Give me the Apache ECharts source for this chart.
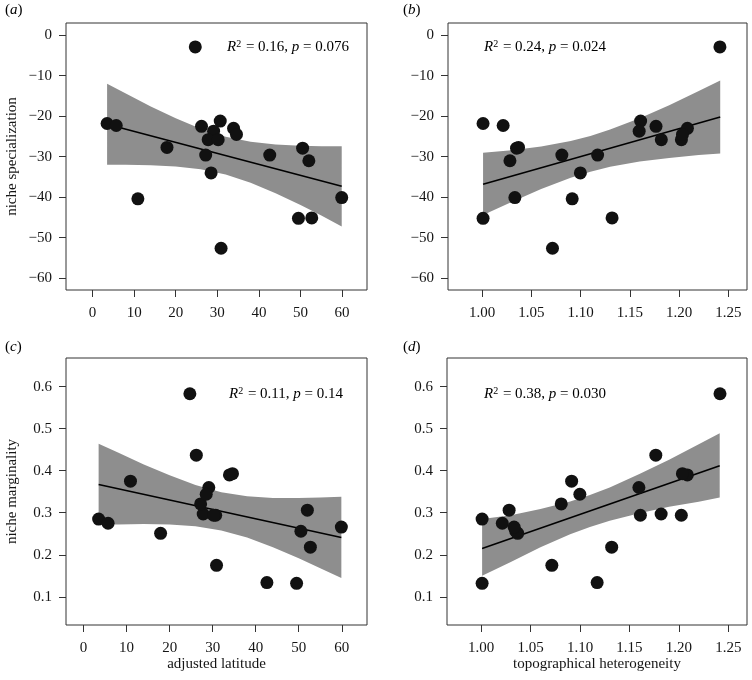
<!DOCTYPE html>
<html>
<head>
<meta charset="utf-8">
<script src="https://cdn.jsdelivr.net/npm/echarts@6/dist/echarts.min.js"></script>
<style>html,body{margin:0;padding:0;background:#fff}#chart{width:752px;height:680px}</style>
</head>
<body>
<div id="chart"></div>
<script>
// ---- data: one entry per species ----
const latitude = [24.7, 3.5, 5.7, 17.9, 10.9, 26.2, 30.7, 29.1, 27.8, 30.2, 33.9, 34.6, 27.2, 28.5, 30.9, 42.6, 50.5, 52.0, 49.5, 52.7, 59.9];
const topography = [1.2415, 1.001, 1.0214, 1.037, 1.0915, 1.1766, 1.161, 1.1595, 1.182, 1.2024, 1.2085, 1.2035, 1.081, 1.0998, 1.0715, 1.1173, 1.035, 1.0283, 1.001, 1.132, 1.0333];
const specialization = [-2.9, -21.8, -22.3, -27.7, -40.4, -22.5, -21.2, -23.7, -25.8, -25.8, -23.0, -24.5, -29.6, -34.0, -52.6, -29.6, -27.9, -31.0, -45.2, -45.1, -40.1];
const marginality = [0.583, 0.285, 0.275, 0.251, 0.375, 0.437, 0.294, 0.360, 0.297, 0.294, 0.390, 0.393, 0.321, 0.344, 0.175, 0.134, 0.256, 0.306, 0.132, 0.218, 0.266];

// ---- tick labels ----
const latTicks = [0, 10, 20, 30, 40, 50, 60];
const topoTicks = [1.00, 1.05, 1.10, 1.15, 1.20, 1.25];
const specTicks = [0, -10, -20, -30, -40, -50, -60];
const margTicks = [0.1, 0.2, 0.3, 0.4, 0.5, 0.6];

// ---- fitted lines ----
const fitX_a = [3.5, 59.9];   const fitY_a = [-22.0, -37.3];
const fitX_b = [1.001, 1.2418]; const fitY_b = [-36.8, -20.2];
const fitX_c = [3.5, 59.9];   const fitY_c = [0.367, 0.241];
const fitX_d = [1.001, 1.2412]; const fitY_d = [0.215, 0.412];

// ---- confidence bands ----
const bandX_a = [3.5, 8, 14, 20, 26, 32, 38, 44, 50, 55, 59.9];
const bandUpper_a = [-12.0, -14.4, -17.6, -20.5, -23.1, -25.1, -26.3, -27.0, -27.3, -27.4, -27.4];
const bandLower_a = [-32.0, -32.0, -32.1, -32.4, -33.1, -34.4, -36.4, -39.0, -41.9, -44.5, -47.2];
const bandX_b = [1.001, 1.03, 1.06, 1.09, 1.11, 1.13, 1.16, 1.19, 1.22, 1.2418];
const bandUpper_b = [-29.0, -28.4, -27.5, -26.1, -24.9, -23.3, -20.5, -17.3, -13.8, -11.2];
const bandLower_b = [-44.4, -41.2, -38.0, -35.2, -33.7, -32.5, -31.2, -30.3, -29.6, -29.2];
const bandX_c = [3.5, 8, 14, 20, 26, 32, 38, 44, 50, 55, 59.9];
const bandUpper_c = [0.464, 0.443, 0.415, 0.389, 0.366, 0.349, 0.339, 0.335, 0.335, 0.336, 0.338];
const bandLower_c = [0.272, 0.272, 0.273, 0.272, 0.268, 0.258, 0.241, 0.218, 0.192, 0.168, 0.145];
const bandX_d = [1.001, 1.03, 1.06, 1.09, 1.11, 1.13, 1.16, 1.19, 1.22, 1.2412];
const bandUpper_d = [0.285, 0.294, 0.309, 0.327, 0.342, 0.360, 0.392, 0.426, 0.463, 0.489];
const bandLower_d = [0.150, 0.183, 0.218, 0.249, 0.266, 0.281, 0.299, 0.314, 0.326, 0.336];

// ---- statistics text ----
const panelLetters = ['a', 'b', 'c', 'd'];
const r2Text = ['0.16', '0.24', '0.11', '0.38'];
const pText = ['0.076', '0.024', '0.14', '0.030'];

const SERIF = '"Liberation Serif","DejaVu Serif",serif';
const INK = '#151515';

const grids = [
  {left: 66, top: 23, width: 301, height: 267},
  {left: 448, top: 23, width: 299, height: 267},
  {left: 66, top: 358, width: 301, height: 267},
  {left: 447, top: 358, width: 300, height: 267}
];

const panels = [
  {xs: latitude, ys: specialization, xMin: -6.38, xMax: 65.98, yMin: -62.9, yMax: 3.0, xT: latTicks, yT: specTicks, xd: 0, yd: 0,
   fx: fitX_a, fy: fitY_a, bx: bandX_a, bu: bandUpper_a, bl: bandLower_a, xName: '', yName: 'niche specialization'},
  {xs: topography, ys: specialization, xMin: 0.9654, xMax: 1.269, yMin: -62.9, yMax: 3.0, xT: topoTicks, yT: specTicks, xd: 2, yd: 0,
   fx: fitX_b, fy: fitY_b, bx: bandX_b, bu: bandUpper_b, bl: bandLower_b, xName: '', yName: ''},
  {xs: latitude, ys: marginality, xMin: -4.08, xMax: 65.86, yMin: 0.033, yMax: 0.668, xT: latTicks, yT: margTicks, xd: 0, yd: 1,
   fx: fitX_c, fy: fitY_c, bx: bandX_c, bu: bandUpper_c, bl: bandLower_c, xName: 'adjusted latitude', yName: 'niche marginality'},
  {xs: topography, ys: marginality, xMin: 0.9655, xMax: 1.2688, yMin: 0.033, yMax: 0.668, xT: topoTicks, yT: margTicks, xd: 2, yd: 1,
   fx: fitX_d, fy: fitY_d, bx: bandX_d, bu: bandUpper_d, bl: bandLower_d, xName: 'topographical heterogeneity', yName: ''}
];

function fmt(dec) {
  return v => Number(v).toFixed(dec).replace('-', '\u2212');
}

const xAxes = [], yAxes = [], series = [];
panels.forEach((p, i) => {
  xAxes.push({
    gridIndex: i, type: 'value', min: p.xMin, max: p.xMax,
    axisLine: {show: false, onZero: false},
    splitLine: {show: false},
    axisTick: {show: true, customValues: p.xT, length: 7, lineStyle: {color: '#333', width: 1}},
    axisLabel: {show: true, customValues: p.xT, formatter: fmt(p.xd), fontFamily: SERIF, fontSize: 15, color: INK, margin: 16},
    name: p.xName, nameLocation: 'middle', nameGap: 23,
    nameTextStyle: {fontFamily: SERIF, fontSize: 15, color: INK}
  });
  yAxes.push({
    gridIndex: i, type: 'value', min: p.yMin, max: p.yMax,
    axisLine: {show: false, onZero: false},
    splitLine: {show: false},
    axisTick: {show: true, customValues: p.yT, length: 7, lineStyle: {color: '#333', width: 1}},
    axisLabel: {show: true, customValues: p.yT, formatter: fmt(p.yd), fontFamily: SERIF, fontSize: 15, color: INK, margin: 14},
    name: p.yName, nameLocation: 'middle', nameGap: 46, nameRotate: 90,
    nameTextStyle: {fontFamily: SERIF, fontSize: 15, color: INK}
  });
  series.push({
    type: 'custom', xAxisIndex: i, yAxisIndex: i, silent: true, z: 1,
    data: [[p.bx[0], p.bu[0]]],
    renderItem: (params, api) => {
      const pts = [];
      for (let k = 0; k < p.bx.length; k++) pts.push(api.coord([p.bx[k], p.bu[k]]));
      for (let k = p.bx.length - 1; k >= 0; k--) pts.push(api.coord([p.bx[k], p.bl[k]]));
      return {type: 'polygon', shape: {points: pts}, style: {fill: '#8e8e8e', stroke: null}};
    }
  });
  series.push({
    type: 'line', xAxisIndex: i, yAxisIndex: i, silent: true, z: 2,
    data: p.fx.map((x, k) => [x, p.fy[k]]),
    symbol: 'none', lineStyle: {color: '#000', width: 1.6}
  });
  series.push({
    type: 'scatter', xAxisIndex: i, yAxisIndex: i, silent: true, z: 3,
    data: p.xs.map((x, k) => [x, p.ys[k]]),
    symbol: 'circle', symbolSize: 13,
    itemStyle: {color: '#111', opacity: 1}
  });
});

const richBase = {
  n: {fontFamily: SERIF, fontSize: 15, color: INK},
  i: {fontFamily: SERIF, fontSize: 15, fontStyle: 'italic', color: INK},
  s: {fontFamily: SERIF, fontSize: 10, color: INK, padding: [0, 1, 6, 0]}
};
const statPos = [[227, 47], [484, 47], [229, 394], [484, 394]];
const letterPos = [[5, 10], [403, 10], [5, 347], [403, 347]];
const graphics = [];
panels.forEach((p, i) => {
  graphics.push({
    type: 'text', x: statPos[i][0], y: statPos[i][1], z: 100,
    style: {text: '{i|R}{s|2}{n| = ' + r2Text[i] + ', }{i|p}{n| = ' + pText[i] + '}', rich: richBase, verticalAlign: 'middle', align: 'left'}
  });
  graphics.push({
    type: 'text', x: letterPos[i][0], y: letterPos[i][1], z: 100,
    style: {text: '{n|(}{i|' + panelLetters[i] + '}{n|)}', rich: richBase, verticalAlign: 'middle', align: 'left'}
  });
});

const chart = echarts.init(document.getElementById('chart'), null, {renderer: 'canvas'});
chart.setOption({
  animation: false,
  backgroundColor: '#fff',
  grid: grids.map(g => Object.assign({show: true, borderColor: '#333', borderWidth: 1, backgroundColor: 'transparent', containLabel: false}, g)),
  xAxis: xAxes,
  yAxis: yAxes,
  series: series,
  graphic: graphics
});
</script>
</body>
</html>
